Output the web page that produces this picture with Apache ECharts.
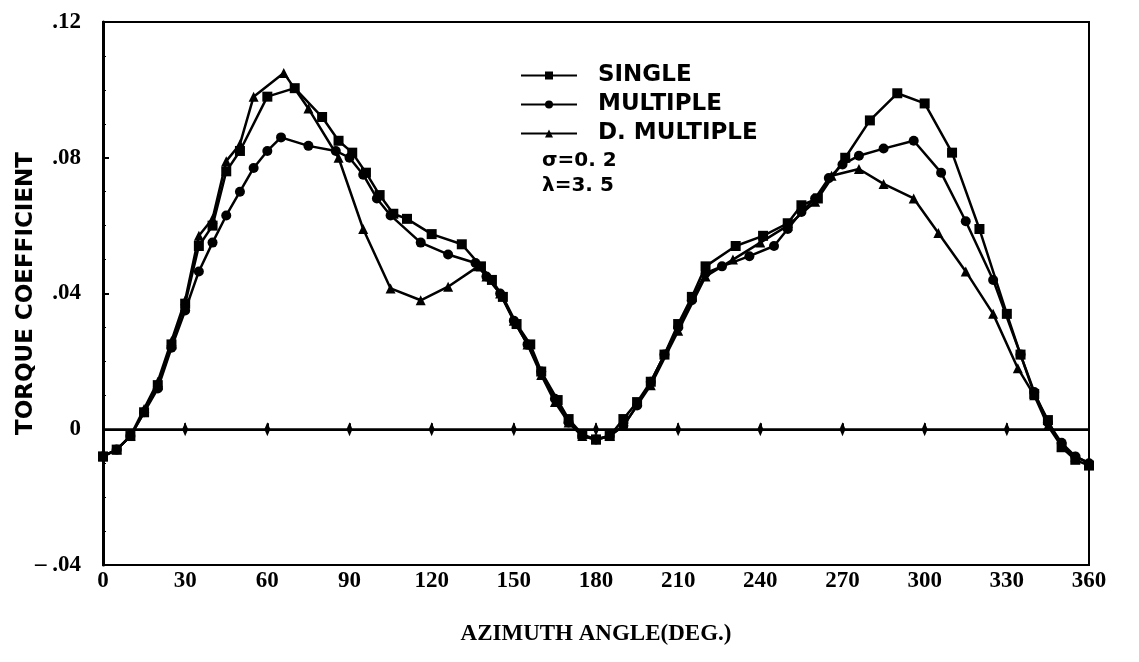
<!DOCTYPE html>
<html>
<head>
<meta charset="utf-8">
<script src="https://cdn.jsdelivr.net/npm/echarts@6/dist/echarts.min.js"></script>
<style>
  html, body { margin: 0; padding: 0; background: #fff; }
  #chart { width: 1139px; height: 662px; }
</style>
</head>
<body>
<div id="chart"></div>
<script>
// torque coefficient vs azimuth angle, [deg, value]
var singleData = [
  [0, -0.008], [5, -0.006], [10, -0.002], [15, 0.005], [20, 0.013], [25, 0.025], [30, 0.037],
  [35, 0.054], [40, 0.060], [45, 0.076], [50, 0.082], [60, 0.098], [70, 0.1005], [80, 0.092],
  [86, 0.085], [91, 0.0815], [96, 0.0756], [101, 0.069], [106, 0.0635], [111, 0.062],
  [120, 0.0575], [131, 0.0545], [138, 0.048], [142, 0.044], [146, 0.039], [151, 0.031],
  [156, 0.025], [160, 0.017], [166, 0.0086], [170, 0.003], [175, -0.0015], [180, -0.003],
  [185, -0.002], [190, 0.003], [195, 0.008], [200, 0.014], [205, 0.022], [210, 0.031],
  [215, 0.039], [220, 0.048], [231, 0.054], [241, 0.057], [250, 0.0607], [255, 0.066],
  [261, 0.068], [271, 0.080], [280, 0.091], [290, 0.099], [300, 0.096], [310, 0.0815],
  [320, 0.059], [330, 0.034], [335, 0.022], [340, 0.0104], [345, 0.0027], [350, -0.0053],
  [355, -0.009], [360, -0.0107]
];
var multipleData = [
  [0, -0.008], [5, -0.006], [10, -0.002], [15, 0.005], [20, 0.012], [25, 0.024], [30, 0.035],
  [35, 0.0465], [40, 0.055], [45, 0.063], [50, 0.070], [55, 0.077], [60, 0.082], [65, 0.086],
  [75, 0.0835], [85, 0.082], [90, 0.080], [95, 0.075], [100, 0.068], [105, 0.063],
  [116, 0.055], [126, 0.0515], [136, 0.049], [140, 0.045], [145, 0.040], [150, 0.032],
  [155, 0.025], [160, 0.017], [165, 0.009], [170, 0.002], [175, -0.002], [180, -0.003],
  [185, -0.002], [190, 0.001], [195, 0.007], [200, 0.014], [205, 0.022], [210, 0.030],
  [215, 0.038], [220, 0.046], [226, 0.048], [236, 0.051], [245, 0.054], [250, 0.059],
  [255, 0.064], [260, 0.068], [265, 0.074], [270, 0.078], [276, 0.0806], [285, 0.0827],
  [296, 0.085], [306, 0.0756], [315, 0.0613], [325, 0.044], [335, 0.022], [340, 0.011],
  [345, 0.002], [350, -0.004], [355, -0.008], [360, -0.010]
];
var dMultipleData = [
  [0, -0.008], [5, -0.006], [10, -0.002], [15, 0.006], [20, 0.014], [25, 0.026], [30, 0.038],
  [35, 0.057], [40, 0.062], [45, 0.079], [50, 0.084], [55, 0.098], [66, 0.105], [75, 0.0945],
  [86, 0.080], [95, 0.059], [105, 0.0415], [116, 0.038], [126, 0.042], [137, 0.048],
  [140, 0.045], [145, 0.040], [150, 0.032], [155, 0.025], [160, 0.016], [165, 0.008],
  [170, 0.002], [175, -0.002], [180, -0.003], [185, -0.002], [190, 0.001], [200, 0.013],
  [210, 0.029], [220, 0.045], [230, 0.050], [240, 0.055], [250, 0.060], [260, 0.067],
  [266, 0.0747], [276, 0.0767], [285, 0.0723], [296, 0.068], [305, 0.0578], [315, 0.0465],
  [325, 0.034], [334, 0.018], [340, 0.010], [345, 0.001], [350, -0.005], [355, -0.008],
  [360, -0.010]
];
// zero reference line with tick diamonds
var zeroAngles = [0, 30, 60, 90, 120, 150, 180, 210, 240, 270, 300, 330, 360];
var seriesNames = ["SINGLE", "MULTIPLE", "D. MULTIPLE"];
var yTickLabels = { "12": ".12", "8": ".08", "4": ".04", "0": "0", "-4": "\u2013 .04" };
var noteLines = ["\u03c3=0. 2", "\u03bb=3. 5"];

var chart = echarts.init(document.getElementById("chart"));

function curve(name, data, symbol, size) {
  return {
    name: name,
    type: "line",
    data: data,
    symbol: symbol,
    symbolSize: size,
    showAllSymbol: true,
    lineStyle: { color: "#000", width: 2.5 },
    itemStyle: { color: "#000" },
    z: 3
  };
}

var option = {
  animation: false,
  backgroundColor: "#fff",
  grid: {
    left: 103, right: 50, top: 22, bottom: 97,
    outerBoundsMode: "none",
    show: true, borderColor: "#000", borderWidth: 2
  },
  legend: {
    data: seriesNames,
    orient: "vertical",
    left: 515, top: 59,
    itemWidth: 56, itemHeight: 10,
    itemGap: 6,
    textStyle: { color: "#000", fontFamily: "DejaVu Sans", fontWeight: "bold", fontSize: 23, padding: [0, 0, 0, 16] }
  },
  xAxis: {
    type: "value",
    min: 0, max: 360, interval: 30,
    name: "AZIMUTH ANGLE(DEG.)",
    nameLocation: "middle",
    nameGap: 58,
    nameMoveOverlap: false,
    nameTextStyle: { color: "#000", fontFamily: "Liberation Serif", fontWeight: "bold", fontSize: 23 },
    axisLine: { lineStyle: { color: "#000", width: 2 } },
    axisTick: { inside: true, length: 6, lineStyle: { color: "#000", width: 2 } },
    axisLabel: { color: "#000", fontFamily: "Liberation Serif", fontWeight: "bold", fontSize: 23, margin: 5 },
    splitLine: { show: false }
  },
  yAxis: {
    type: "value",
    min: -0.04, max: 0.12, interval: 0.04,
    name: "TORQUE COEFFICIENT",
    nameLocation: "middle",
    nameGap: 65,
    nameMoveOverlap: false,
    nameRotate: 90,
    nameTextStyle: { color: "#000", fontFamily: "DejaVu Sans", fontWeight: "bold", fontSize: 23 },
    axisLine: { show: true, lineStyle: { color: "#000", width: 3 } },
    axisTick: { show: true, inside: true, length: 6, lineStyle: { color: "#000", width: 2 } },
    minorTick: { show: true, splitNumber: 4, length: 3, lineStyle: { color: "#000", width: 1 } },
    axisLabel: {
      color: "#000", fontFamily: "Liberation Serif", fontWeight: "bold", fontSize: 23, margin: 22,
      formatter: function (v) {
        return yTickLabels[String(Math.round(v * 100))];
      }
    },
    splitLine: { show: false }
  },
  graphic: [
    {
      type: "text", left: 542, top: 148,
      style: { text: noteLines.join("\n"), fill: "#000", font: "bold 20px 'DejaVu Sans'", lineHeight: 25 }
    }
  ],
  series: [
    curve(seriesNames[0], singleData, "rect", 10),
    curve(seriesNames[1], multipleData, "circle", 10),
    curve(seriesNames[2], dMultipleData, "triangle", 10),
    {
      name: "zero",
      type: "line",
      data: zeroAngles.map(function (a) { return [a, 0]; }),
      symbol: "diamond",
      symbolSize: function (v) { return (v[0] === 0 || v[0] === 360) ? 0 : [6, 14]; },
      showAllSymbol: true,
      lineStyle: { color: "#000", width: 2 },
      itemStyle: { color: "#000" },
      z: 2
    }
  ]
};

chart.setOption(option);
</script>
</body>
</html>
